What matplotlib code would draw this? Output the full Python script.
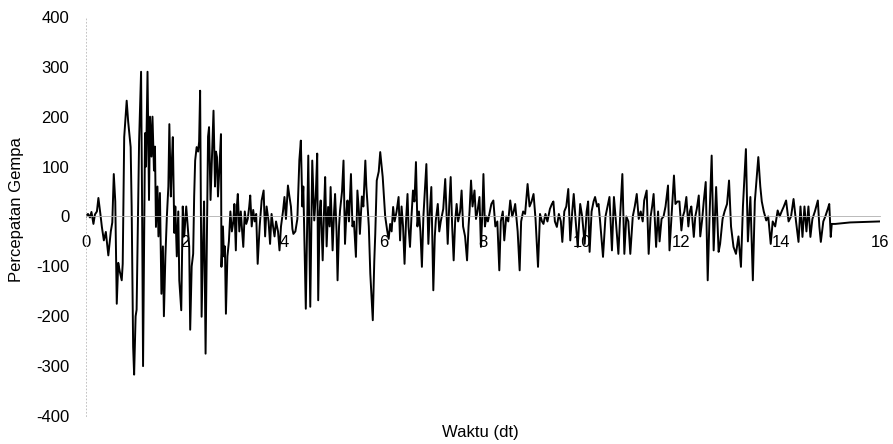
import matplotlib.pyplot as plt

# ground acceleration record, read as turning points (time in s, accel)
waktu = [
    0.00, 0.04, 0.08, 0.11, 0.15, 0.18, 0.22, 0.25, 0.29, 0.32, 0.36, 0.40, 0.45, 0.50, 0.53, 0.56,
    0.59, 0.62, 0.65, 0.68, 0.72, 0.74, 0.77, 0.82, 0.85, 0.87, 0.90, 0.92, 0.95, 0.97, 1.00, 1.02,
    1.05, 1.07, 1.11, 1.13, 1.15, 1.17, 1.19, 1.21, 1.24, 1.27, 1.29, 1.32, 1.34, 1.37, 1.39, 1.41,
    1.44, 1.46, 1.49, 1.52, 1.55, 1.57, 1.60, 1.63, 1.66, 1.68, 1.71, 1.73, 1.75, 1.78, 1.80, 1.83,
    1.86, 1.88, 1.92, 1.95, 1.98, 2.02, 2.05, 2.08, 2.10, 2.13, 2.16, 2.18, 2.20, 2.23, 2.26, 2.28,
    2.30, 2.33, 2.36, 2.38, 2.41, 2.44, 2.46, 2.48, 2.51, 2.54, 2.57, 2.60, 2.62, 2.64, 2.66, 2.69,
    2.72, 2.73, 2.76, 2.78, 2.80, 2.82, 2.85, 2.88, 2.91, 2.94, 2.97, 2.99, 3.02, 3.04, 3.06, 3.09,
    3.12, 3.14, 3.17, 3.20, 3.23, 3.26, 3.29, 3.31, 3.34, 3.37, 3.40, 3.43, 3.46, 3.50, 3.54, 3.58,
    3.61, 3.64, 3.68, 3.71, 3.74, 3.77, 3.80, 3.83, 3.87, 3.90, 3.93, 3.97, 4.00, 4.03, 4.07, 4.10,
    4.13, 4.16, 4.18, 4.22, 4.26, 4.30, 4.33, 4.36, 4.38, 4.43, 4.48, 4.52, 4.56, 4.60, 4.63, 4.66,
    4.68, 4.71, 4.73, 4.77, 4.80, 4.82, 4.85, 4.88, 4.91, 4.93, 4.97, 5.00, 5.02, 5.05, 5.07, 5.10,
    5.12, 5.16, 5.19, 5.22, 5.25, 5.27, 5.30, 5.34, 5.37, 5.40, 5.44, 5.47, 5.50, 5.52, 5.56, 5.59,
    5.63, 5.65, 5.67, 5.70, 5.73, 5.78, 5.81, 5.83, 5.86, 5.90, 5.93, 5.96, 5.98, 6.01, 6.03, 6.07,
    6.10, 6.13, 6.16, 6.19, 6.22, 6.26, 6.30, 6.33, 6.36, 6.39, 6.42, 6.45, 6.48, 6.50, 6.53, 6.56,
    6.59, 6.62, 6.65, 6.68, 6.71, 6.74, 6.77, 6.80, 6.83, 6.86, 6.90, 6.93, 6.96, 7.00, 7.03, 7.05,
    7.09, 7.12, 7.15, 7.20, 7.24, 7.27, 7.29, 7.32, 7.35, 7.38, 7.41, 7.44, 7.47, 7.50, 7.54, 7.57,
    7.60, 7.64, 7.68, 7.71, 7.73, 7.76, 7.79, 7.83, 7.86, 7.89, 7.93, 7.96, 7.99, 8.01, 8.04, 8.07,
    8.10, 8.14, 8.17, 8.21, 8.25, 8.29, 8.33, 8.36, 8.40, 8.43, 8.47, 8.51, 8.55, 8.59, 8.62, 8.65,
    8.70, 8.74, 8.77, 8.81, 8.85, 8.90, 8.94, 8.98, 9.02, 9.06, 9.11, 9.15, 9.19, 9.22, 9.26, 9.30,
    9.35, 9.39, 9.42, 9.45, 9.49, 9.53, 9.57, 9.60, 9.64, 9.68, 9.72, 9.76, 9.80, 9.83, 9.87, 9.91,
    9.96, 10.00, 10.05, 10.09, 10.12, 10.15, 10.19, 10.23, 10.26, 10.30, 10.33, 10.36, 10.42, 10.47, 10.51, 10.55,
    10.60, 10.64, 10.68, 10.73, 10.77, 10.81, 10.85, 10.89, 10.93, 10.97, 11.02, 11.06, 11.10, 11.14, 11.18, 11.22,
    11.25, 11.30, 11.34, 11.38, 11.41, 11.44, 11.49, 11.53, 11.56, 11.60, 11.64, 11.68, 11.73, 11.76, 11.80, 11.85,
    11.88, 11.92, 11.96, 12.00, 12.03, 12.06, 12.10, 12.14, 12.17, 12.20, 12.25, 12.28, 12.31, 12.35, 12.38, 12.42,
    12.45, 12.49, 12.53, 12.57, 12.61, 12.65, 12.70, 12.75, 12.78, 12.83, 12.87, 12.92, 12.96, 13.00, 13.05, 13.10,
    13.15, 13.20, 13.24, 13.30, 13.34, 13.39, 13.44, 13.48, 13.55, 13.59, 13.62, 13.66, 13.71, 13.75, 13.80, 13.84,
    13.89, 13.94, 13.98, 14.02, 14.06, 14.11, 14.16, 14.21, 14.26, 14.31, 14.36, 14.40, 14.44, 14.48, 14.52, 14.56,
    14.60, 14.64, 14.69, 14.75, 14.78, 14.81, 14.86, 14.90, 14.95, 14.98, 15.01, 15.03, 15.10, 15.40, 15.70, 16.00,
]
percepatan = [
    0, 5, -2, 9, -15, 4, 10, 37, 5, -21, -48, -31, -78, -30, -12, 85,
    30, -175, -93, -110, -128, -95, 159, 232, 190, 169, 139, 20, -261, -317, -200, -187,
    20, 150, 290, 30, -300, -60, 167, 100, 290, 33, 200, 120, 200, 92, 140, -21,
    60, -40, 47, -155, -60, -200, -80, 0, 60, 185, 40, 110, 159, -33, 20, -80,
    10, -128, -188, 20, -40, 20, -20, -60, -227, -100, -75, 40, 112, 139, 130, 150,
    252, -201, -50, 30, -275, -20, 160, 179, 33, 120, 212, 60, 130, 119, 40, 100,
    165, -101, -20, -80, -60, -195, -80, -50, 10, -30, -10, 25, -68, 20, 45, -30,
    10, -20, -61, 10, -15, -5, 20, 42, -20, 13, -10, 5, -95, -20, 32, 52,
    -40, 20, -10, -55, 5, -20, -40, -10, -30, -68, -20, 10, 39, -5, 62, 40,
    20, -25, -35, -30, -5, 113, 152, 20, 60, -185, 122, -181, 112, -8, 40, 126,
    -168, 10, 32, -88, 20, 79, -60, 19, -20, 59, -68, 10, 45, -30, -128, -20,
    12, 50, 112, -55, 10, 32, -10, 85, -20, -10, -81, 52, 10, -35, 40, 20,
    112, 60, 30, -20, -115, -208, -90, -35, 72, 90, 129, 100, 79, 30, 0, -28,
    -45, -15, -30, 19, -10, 10, 39, -48, 20, -20, -95, -10, 45, -20, -61, 0,
    52, 30, 109, -20, 10, -30, -101, 0, 52, 105, -55, 10, 59, -148, -40, -8,
    25, -30, -10, 15, 75, 0, -55, 20, 79, -20, -88, -10, 25, -10, 10, 52,
    -20, -40, -88, -20, 10, 72, 20, 52, -5, 10, 39, -61, 10, 85, -20, 0,
    -10, 10, 25, 32, -20, -10, -108, -10, 10, -48, 0, -10, 32, 0, 10, 25,
    -30, -108, -10, 10, 5, 65, 20, 30, 45, -5, -101, 5, -10, -15, 5, -10,
    15, 25, 30, -10, -21, 5, -10, -51, 10, 20, 55, -48, 10, 45, -10, -61,
    25, 0, -55, 10, 30, -71, 10, 30, 39, 20, 25, -8, -81, 0, 20, 39,
    -68, 39, -10, -75, 10, 85, -75, 0, -10, -75, 0, 20, 45, -5, 10, -10,
    32, 52, -75, 0, 20, 45, -61, 10, -50, -5, 0, 20, 62, -68, 0, 82,
    25, 30, 30, -28, 0, 10, 39, -20, 10, 20, -41, 0, 15, 42, -40, -5,
    30, 69, -128, 10, 122, -68, 59, -71, -55, -5, 10, 25, 72, -20, -61, -75,
    -40, -101, 20, 135, -50, 39, -128, 30, 119, 60, 30, 10, -8, 0, -55, -10,
    -20, 12, 0, 10, 19, 32, -10, 0, 35, -10, -51, 20, -41, 20, -30, 20,
    -41, -5, 10, 32, -20, -51, -10, 0, 15, 25, -41, -15, -15, -12, -11, -10,
]

x_ticks = [0, 2, 4, 6, 8, 10, 12, 14, 16]
y_ticks = [-400, -300, -200, -100, 0, 100, 200, 300, 400]

plt.rcParams['font.family'] = ['Liberation Sans', 'DejaVu Sans']
plt.rcParams['axes.unicode_minus'] = False

fig = plt.figure(figsize=(8.93, 4.44), dpi=100)
ax = fig.add_axes([0.0963, 0.063, 0.889, 0.899])

ax.plot(waktu, percepatan, color='black', linewidth=1.4)

ax.set_xlim(0, 16)
ax.set_ylim(-400, 400)
ax.set_xticks(x_ticks)
ax.set_yticks(y_ticks)

# axes cross at zero, drawn faint like the original sheet
for s in ['top', 'right']:
    ax.spines[s].set_visible(False)
ax.spines['bottom'].set_position(('data', 0))
ax.spines['bottom'].set_color('#b0b0b0')
ax.spines['bottom'].set_linewidth(0.6)
ax.spines['left'].set_color('#b8b8b8')
ax.spines['left'].set_linewidth(0.6)
ax.spines['left'].set_linestyle((0, (1, 3)))
ax.tick_params(axis='both', length=0, labelsize=12)
ax.tick_params(axis='x', pad=13)
ax.tick_params(axis='y', pad=12)

fig.text(0.019, 0.527, 'Percepatan Gempa', rotation=90, ha='center', va='center', fontsize=12)
fig.text(0.538, 0.027, 'Waktu (dt)', ha='center', va='center', fontsize=12)

fig.savefig('out.png', dpi=100)
